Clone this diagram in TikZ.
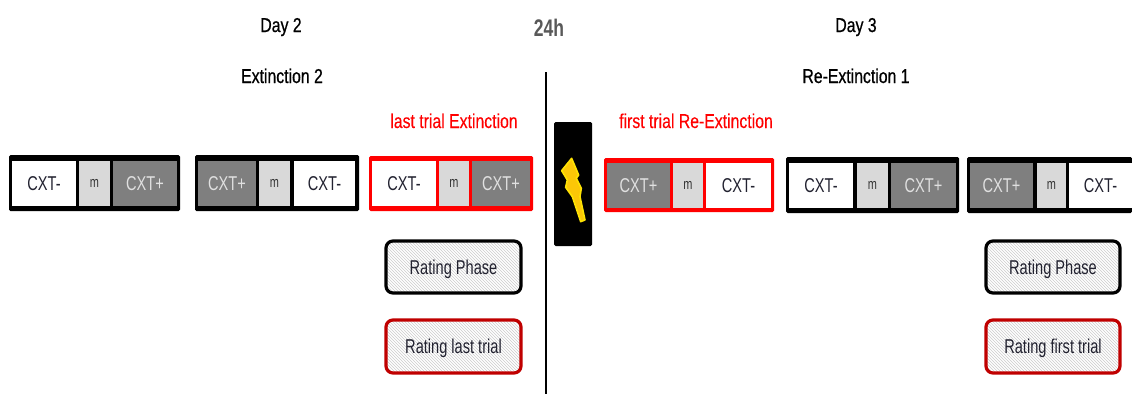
\documentclass[tikz,border=0pt]{standalone}
\usepackage{fontspec}
\setmainfont[FakeStretch=0.73]{Liberation Sans}
\newfontfamily\headfont[FakeStretch=0.79,FakeBold=0.6]{Liberation Sans}
\newfontfamily\redfont[FakeStretch=0.79,FakeBold=0.2]{Liberation Sans}
\usetikzlibrary{patterns}
\definecolor{cellgrey}{HTML}{7F7F7F}
\definecolor{cellm}{HTML}{D9D9D9}
\definecolor{ratered}{HTML}{C00000}
\definecolor{txtdark}{HTML}{222230}
\tikzset{
  x=1pt,y=-1pt,
  frameblack/.style={draw=none,fill=black,rounded corners=1.5pt,inner sep=0pt,outer sep=0pt},
  framered/.style={draw=none,fill=red,rounded corners=1.5pt,inner sep=0pt,outer sep=0pt},
  whitecell/.style={fill=white,text=txtdark,inner sep=0pt,outer sep=0pt,font=\fontsize{20}{20}\selectfont},
  greycell/.style={fill=cellgrey,text=white!88!black,inner sep=0pt,outer sep=0pt,font=\fontsize{20}{20}\selectfont},
  mcell/.style={fill=cellm,text=black!80,inner sep=0pt,outer sep=0pt,font=\fontsize{15}{15}\selectfont},
  ratebox/.style={preaction={fill=white},pattern=north west lines,pattern color=black!20,rounded corners=7pt,line width=3.2pt,inner sep=0pt,text=txtdark,text height=14pt,text depth=0pt,font=\fontsize{20}{20}\selectfont},
  heading/.style={inner sep=0pt,text=black,text height=14pt,text depth=0pt,font=\fontsize{20}{20}\headfont},
  redhead/.style={inner sep=0pt,text=red,text height=14pt,text depth=0pt,font=\fontsize{20}{20}\redfont},
}
% name, x1, y1, x2, y2, style, text
\newcommand{\boxat}[7]{\node[#6,minimum width=#4-#2,minimum height=#5-#3,anchor=center] (#1) at ({(#2+#4)/2},{(#3+#5)/2}) {#7};}
\begin{document}
\begin{tikzpicture}
\useasboundingbox (0,0) rectangle (1132,394);
\fill[white] (0,0) rectangle (1132,394);
% headings
\node[heading] (day2) at (281,25) {Day 2};
\node[heading] (day3) at (856,25) {Day 3};
\node[inner sep=0pt,text=black!65,font=\fontsize{24}{24}\selectfont\bfseries] (h24) at (549,28) {24h};
\node[heading] (ext2) at (282,76) {Extinction 2};
\node[heading] (reext) at (856,76) {Re-Extinction 1};
\node[redhead] (lasthead) at (454,121) {last trial Extinction};
\node[redhead] (firsthead) at (696,121) {first trial Re-Extinction};
% divider
\coordinate (divtop) at (545.5,72);
\coordinate (divbot) at (545.5,394);
\draw[line width=2pt] (divtop) -- (divbot);
% group 1
\boxat{f1}{9}{155}{180}{211}{frameblack}{}
\boxat{a1}{12}{161}{76}{206}{whitecell}{CXT-}
\boxat{a2}{79}{161}{110}{206}{mcell}{m}
\boxat{a3}{113}{161}{177}{206}{greycell}{CXT+}
% group 2
\boxat{f2}{195}{155}{359}{211}{frameblack}{}
\boxat{b1}{198}{161}{256}{206}{greycell}{CXT+}
\boxat{b2}{259}{161}{290}{206}{mcell}{m}
\boxat{b3}{294}{161}{355}{206}{whitecell}{CXT-}
% group 3 (red)
\boxat{f3}{369}{156}{533}{211}{framered}{}
\boxat{c1}{372}{161}{436}{206}{whitecell}{CXT-}
\boxat{c2}{439}{161}{469}{206}{mcell}{m}
\boxat{c3}{472}{161}{530}{206}{greycell}{CXT+}
% shock box
\boxat{shock}{554}{122}{592}{246}{frameblack}{}
\begin{scope}[shift={(360,100)},x=0.3333pt,y=-0.3333pt]
\fill[yellow!60!orange,draw=yellow!85!orange,line width=1.6pt,line join=round]
 (635,175) -- (605,212) -- (622,240) -- (617,262) -- (637,290) -- (662,365) -- (675,360) -- (660,290) -- (664,265) -- (649,235) -- (656,225) -- cycle;
\end{scope}
% group 4 (red)
\boxat{f4}{604}{158}{774}{212}{framered}{}
\boxat{d1}{607}{163}{670}{208}{greycell}{CXT+}
\boxat{d2}{673}{163}{703}{208}{mcell}{m}
\boxat{d3}{706}{163}{771}{208}{whitecell}{CXT-}
% group 5
\boxat{f5}{786}{157}{959}{213}{frameblack}{}
\boxat{e1}{789}{163}{853}{208}{whitecell}{CXT-}
\boxat{e2}{857}{163}{888}{208}{mcell}{m}
\boxat{e3}{891}{163}{956}{208}{greycell}{CXT+}
% group 6
\boxat{f6}{967}{157}{1132}{213}{frameblack}{}
\boxat{g1}{970}{163}{1033}{208}{greycell}{CXT+}
\boxat{g2}{1037}{163}{1066}{208}{mcell}{m}
\boxat{g3}{1069}{163}{1132}{208}{whitecell}{CXT-}
% rating boxes
\boxat{r1}{386}{241}{521}{293}{ratebox,draw=black}{Rating Phase}
\boxat{r2}{386}{320}{521}{373}{ratebox,draw=ratered}{Rating last trial}
\boxat{r3}{986}{241}{1120}{293}{ratebox,draw=black}{Rating Phase}
\boxat{r4}{986}{320}{1120}{373}{ratebox,draw=ratered}{Rating first trial}
\end{tikzpicture}
\end{document}
